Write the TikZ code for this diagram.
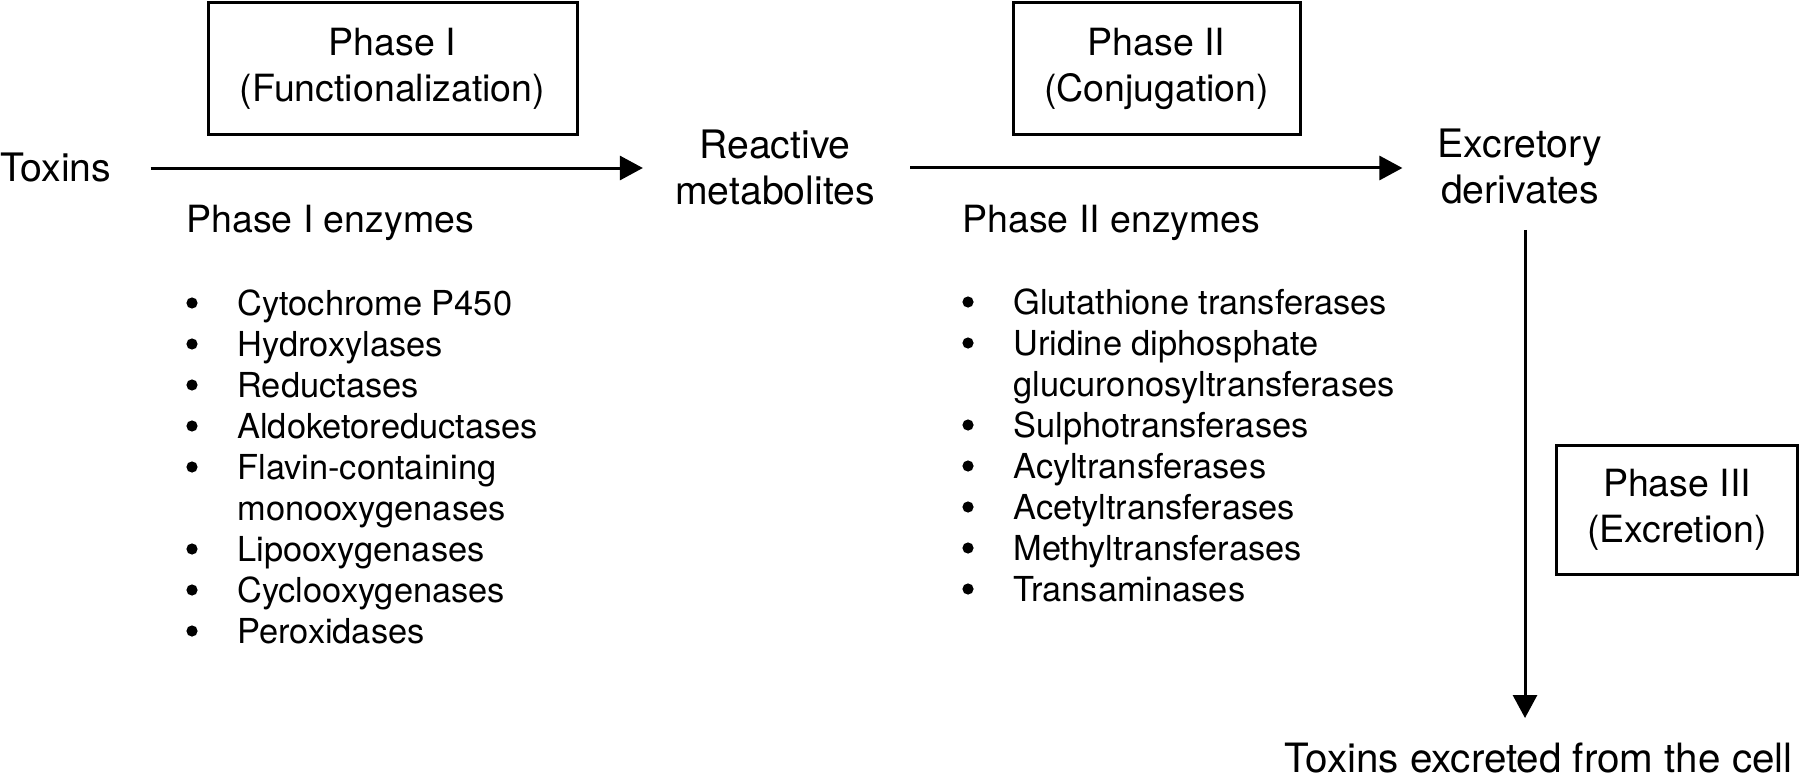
\documentclass[tikz,border=0pt]{standalone}
\usepackage{fontspec}
\setmainfont{TeX Gyre Heros}
\usetikzlibrary{arrows.meta,positioning}
\tikzset{>={Triangle[length=11.5pt,width=12pt]}}

\begin{document}
\begin{tikzpicture}[x=0.5pt,y=-0.5pt]
          \tikzstyle{txt} = [inner sep=0pt, font=\fontsize{18.75}{23}\selectfont, align=center]
          \tikzstyle{bigtxt} = [txt, font=\fontsize{19.6}{23}\selectfont]
          \tikzstyle{phasebox} = [txt, draw=black, line width=1.5pt, minimum height=66pt]
          \tikzstyle{item} = [inner sep=0pt, anchor=base west, font=\fontsize{17.2}{20.5}\selectfont]
          \tikzstyle{dot} = [circle, fill=black, inner sep=0pt, minimum size=5.6pt]
          \tikzstyle{flow} = [->, line width=1.5pt]

          \useasboundingbox (0,0) rectangle (1800,781);

          % phase boxes
          \node[phasebox, minimum width=184.5pt] (ph1) at (392.5,68.5) {Phase I\\(Functionalization)};
          \node[phasebox, minimum width=143.5pt] (ph2) at (1156.5,68.5) {Phase II\\(Conjugation)};
          \node[phasebox, minimum width=120.5pt, minimum height=64.5pt] (ph3) at (1677,510) {Phase III\\(Excretion)};

          % main chain
          \node[bigtxt, anchor=base west] (toxins) at (0,182) {Toxins};
          \node[bigtxt] (react) at (775,168) {Reactive\\metabolites};
          \node[bigtxt] (excr) at (1520,167) {Excretory\\derivates};
          \node[txt, font=\fontsize{20.2}{23}\selectfont, anchor=base east] (cell) at (1793,772) {Toxins excreted from the cell};

          \draw[flow, shorten <=19.5pt, shorten >=16pt] (toxins.east) -- (toxins.east -| react.west);
          \draw[flow, shorten <=17.5pt, shorten >=17.5pt] (react.east) -- (react.east -| excr.west);
          \draw[flow, shorten <=12.5pt, shorten >=12pt] ([xshift=2.5pt]excr.south) -- ([xshift=2.5pt]excr.south |- cell.north);

          % enzyme lists
          \node[item, font=\fontsize{18.75}{20.5}\selectfont] (enz1) at (186,232) {Phase I enzymes};
          \foreach \t [count=\i from 0] in {Cytochrome P450, Hydroxylases, Reductases, Aldoketoreductases,
              Flavin-containing, monooxygenases, Lipooxygenases, Cyclooxygenases, Peroxidases}
            \node[item] (p1item\i) at (237,315+41*\i) {\t};
          \foreach \i in {0,1,2,3,4,6,7,8}
            \node[dot] (p1dot\i) at (192,303+41*\i) {};

          \node[item, font=\fontsize{18.75}{20.5}\selectfont] (enz2) at (962,232) {Phase II enzymes};
          \foreach \t [count=\i from 0] in {Glutathione transferases, Uridine diphosphate, glucuronosyltransferases,
              Sulphotransferases, Acyltransferases, Acetyltransferases, Methyltransferases, Transaminases}
            \node[item] (p2item\i) at (1013,314+41*\i) {\t};
          \foreach \i in {0,1,3,4,5,6,7}
            \node[dot] (p2dot\i) at (968,302+41*\i) {};
        \end{tikzpicture}
\end{document}
